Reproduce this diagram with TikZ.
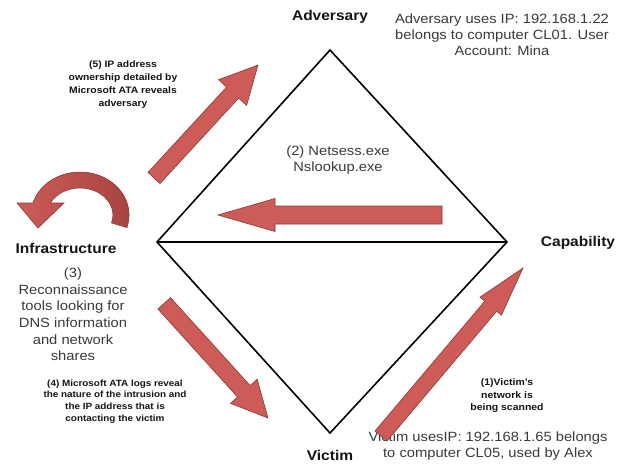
\documentclass[tikz,border=0pt]{standalone}
\usepackage{fontspec}
\setmainfont{Liberation Sans}[FakeStretch=1.1]
\usetikzlibrary{calc}

\definecolor{arrowred}{HTML}{CD5C58}
\definecolor{arrowdark}{HTML}{A6433F}
\definecolor{arrowedge}{HTML}{8A3835}
\definecolor{notegray}{HTML}{3A3A3A}
\definecolor{labelblack}{HTML}{141414}

% straight block arrow: #1 tail, #2 tip, #3 half shaft width,
% #4 half head width, #5 head length
\newcommand\blockarrow[5]{%
  \coordinate (hb) at ($(#2)!#5!(#1)$);
  \draw[blockarr]
    ($(#1)!#3!90:(#2)$) -- ($(hb)!#3!-90:(#1)$) -- ($(hb)!#4!-90:(#1)$)
    -- (#2)
    -- ($(hb)!#4!90:(#1)$) -- ($(hb)!#3!90:(#1)$) -- ($(#1)!#3!-90:(#2)$)
    -- cycle;
}

\begin{document}
\begin{tikzpicture}[x=1pt,y=-1pt,
  lab/.style={font=\fontsize{14.1}{16}\selectfont\bfseries, text=labelblack, inner sep=0pt},
  note/.style={font=\fontsize{13.4}{16}\selectfont, text=notegray, align=center, inner sep=0pt},
  small/.style={font=\bfseries, text=labelblack, align=center, inner sep=0pt},
  blockarr/.style={fill=arrowred, draw=arrowedge, line width=0.6pt, line join=miter},
  edge/.style={draw=black, line width=1.6pt, line join=miter}]

\useasboundingbox (0,0) rectangle (629,466);
\fill[white] (0,0) rectangle (629,466);

% diamond model
\coordinate (adv) at (330,50);
\coordinate (cap) at (507,242);
\coordinate (vic) at (330,433);
\coordinate (inf) at (157,242);
\draw[edge] (adv) -- (cap) -- (vic) -- (inf) -- cycle;
\draw[edge] (inf) -- (cap);

% vertex labels
\node[lab] (advlabel) at (330,17) {Adversary};
\node[lab] (inflabel) at (66,248) {Infrastructure};
\node[lab] (caplabel) at (578,243) {Capability};
\node[lab] (viclabel) at (330,455) {Victim};

% notes
\node[note] (advnote) at (502,35)
  {Adversary uses IP: 192.168.1.22\\belongs to computer CL01. User\\Account: Mina};
\node[note] (tools) at (338,160) {(2) Netsess.exe\\Nslookup.exe};
\node[note, font=\fontsize{13.4}{16.6}\selectfont] (recon) at (73,314.5)
  {(3)\\Reconnaissance\\tools looking for\\DNS information\\and network\\shares};
\node[note] (vicnote) at (488,446)
  {Victim usesIP: 192.168.1.65 belongs\\to computer CL05, used by Alex};

\node[small, font=\fontsize{9.4}{13}\selectfont\bfseries] (step5) at (123,84.5)
  {(5) IP address\\ownership detailed by\\Microsoft ATA reveals\\adversary};
\node[small, font=\fontsize{9.0}{11.7}\selectfont\bfseries] (step4) at (115,401.5)
  {(4) Microsoft ATA logs reveal\\the nature of the intrusion and\\the IP address that is\\contacting the victim};
\node[small, font=\fontsize{9.5}{12.5}\selectfont\bfseries] (step1) at (507,396)
  {(1)Victim's\\network is\\being scanned};

% flow arrows
\coordinate (a2s) at (442,215);
\coordinate (a2e) at (218,215);
\blockarrow{a2s}{a2e}{9pt}{16.5pt}{57pt}

\coordinate (a5s) at (154,178);
\coordinate (a5e) at (258,65);
\blockarrow{a5s}{a5e}{8.2pt}{19pt}{37.5pt}

\coordinate (a4s) at (164.2,303.3);
\coordinate (a4e) at (268,418);
\blockarrow{a4s}{a4e}{8.5pt}{18pt}{36pt}

\coordinate (a1s) at (381,436);
\coordinate (a1e) at (523,268);
\blockarrow{a1s}{a1e}{7.8pt}{14pt}{50pt}

% curved arrow over the infrastructure label
\draw[draw=arrowedge, line width=0.6pt, line join=miter,
      left color=arrowred, middle color=arrowred, right color=arrowdark]
  (126.9,227.6) arc[start angle=17, end angle=-163.8, x radius=49, y radius=43]
  -- (17,203) -- (38,228) -- (64,203) -- (50.4,203)
  arc[start angle=-153.6, end angle=17, x radius=33, y radius=27]
  -- cycle;

\end{tikzpicture}
\end{document}
